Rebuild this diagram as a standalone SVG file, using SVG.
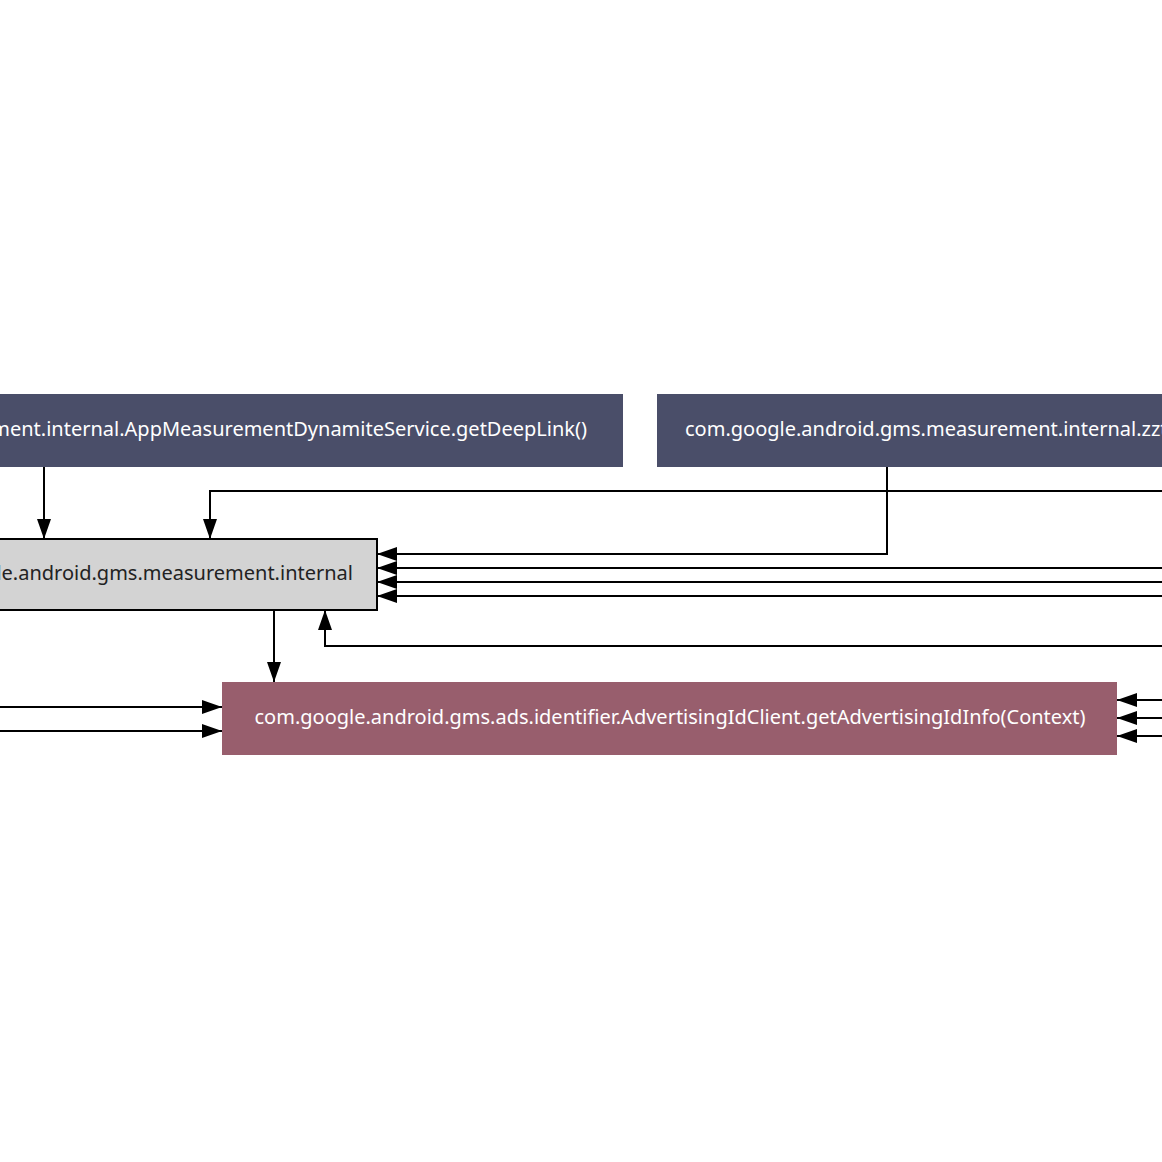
<svg xmlns="http://www.w3.org/2000/svg" width="1162" height="1162" viewBox="0 0 1162 1162">
<style>
.dark{fill:#4a4e69}
.grey{fill:#d3d3d3;stroke:#000;stroke-width:2}
.rose{fill:#985e6d}
.lt{font-family:"Noto Sans","Open Sans",sans-serif;font-size:20px;fill:#ffffff}
.dt{font-family:"Noto Sans","Open Sans",sans-serif;font-size:20px;fill:#222222}
.e{fill:none;stroke:#000;stroke-width:2}
</style>
<defs>
<marker id="ah" viewBox="0 0 20 14" refX="20" refY="7" markerWidth="20" markerHeight="14" markerUnits="userSpaceOnUse" orient="auto">
<path d="M0,0 L20,7 L0,14 Z" fill="#000"/>
</marker>
</defs>
<rect width="1162" height="1162" fill="#fff"/>
<g id="n1">
<rect class="dark" x="-400" y="394" width="1023" height="73"/>
<text class="lt" x="587" y="436" text-anchor="end">ment.internal.AppMeasurementDynamiteService.getDeepLink()</text>
</g>
<g id="n2">
<rect class="dark" x="657" y="394" width="700" height="73"/>
<text class="lt" x="685" y="436">com.google.android.gms.measurement.internal.zzt</text>
</g>
<g id="n3">
<rect class="grey" x="-300" y="539" width="677" height="71"/>
<text class="dt" x="353" y="580" text-anchor="end">le.android.gms.measurement.internal</text>
</g>
<g id="n4">
<rect class="rose" x="222" y="682" width="895" height="73"/>
<text class="lt" x="670" y="724" text-anchor="middle">com.google.android.gms.ads.identifier.AdvertisingIdClient.getAdvertisingIdInfo(Context)</text>
</g>
<g id="edges">
<path class="e" d="M44,467 V539" marker-end="url(#ah)"/>
<path class="e" d="M1162,491 H210 V539" marker-end="url(#ah)"/>
<path class="e" d="M887,467 V554 H377" marker-end="url(#ah)"/>
<path class="e" d="M1162,568 H377" marker-end="url(#ah)"/>
<path class="e" d="M1162,582 H377" marker-end="url(#ah)"/>
<path class="e" d="M1162,596 H377" marker-end="url(#ah)"/>
<path class="e" d="M1162,646 H325 V610" marker-end="url(#ah)"/>
<path class="e" d="M274,610 V682" marker-end="url(#ah)"/>
<path class="e" d="M0,707 H222" marker-end="url(#ah)"/>
<path class="e" d="M0,731 H222" marker-end="url(#ah)"/>
<path class="e" d="M1162,700 H1117" marker-end="url(#ah)"/>
<path class="e" d="M1162,718 H1117" marker-end="url(#ah)"/>
<path class="e" d="M1162,736 H1117" marker-end="url(#ah)"/>
</g>
</svg>
